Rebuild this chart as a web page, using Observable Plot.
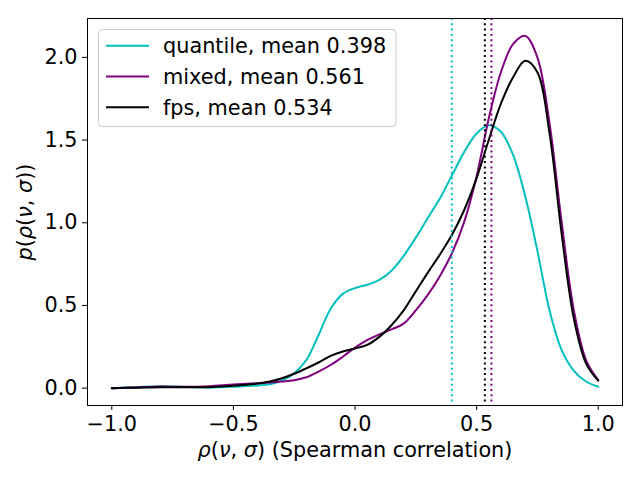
<!DOCTYPE html>
<html>
<head>
<meta charset="utf-8">
<script src="https://cdn.jsdelivr.net/npm/d3@7"></script>
<script src="https://cdn.jsdelivr.net/npm/@observablehq/plot@0.6"></script>
<style>
  html, body { margin: 0; padding: 0; background: white; }
  #chart { width: 640px; height: 480px; }
</style>
</head>
<body>
<div id="chart"></div>
<script>
// ---- data ----
const xs = [-1, -0.9, -0.8, -0.7, -0.6, -0.5, -0.4, -0.35, -0.3, -0.25, -0.2, -0.15, -0.1, -0.05, 0, 0.05, 0.1, 0.15, 0.2, 0.25, 0.3, 0.35, 0.4, 0.45, 0.5, 0.55, 0.6, 0.65, 0.7, 0.75, 0.8, 0.85, 0.9, 0.95, 1];
const quantileVals = [0, 0.006, 0.012, 0.007, 0.004, 0.008, 0.016, 0.024, 0.045, 0.09, 0.17, 0.32, 0.48, 0.57, 0.605, 0.625, 0.655, 0.71, 0.80, 0.91, 1.03, 1.15, 1.29, 1.43, 1.54, 1.59, 1.55, 1.41, 1.16, 0.83, 0.47, 0.23, 0.105, 0.04, 0.008];
const mixedVals = [0, 0.004, 0.01, 0.008, 0.012, 0.022, 0.03, 0.034, 0.04, 0.048, 0.066, 0.10, 0.14, 0.19, 0.245, 0.29, 0.325, 0.355, 0.39, 0.47, 0.565, 0.68, 0.82, 1.01, 1.28, 1.63, 1.91, 2.08, 2.13, 2.00, 1.60, 1.00, 0.47, 0.17, 0.05];
const fpsVals = [0, 0.003, 0.006, 0.005, 0.006, 0.014, 0.028, 0.04, 0.06, 0.087, 0.12, 0.155, 0.195, 0.222, 0.24, 0.262, 0.31, 0.38, 0.47, 0.585, 0.70, 0.81, 0.93, 1.08, 1.27, 1.50, 1.72, 1.88, 1.98, 1.91, 1.54, 0.93, 0.42, 0.15, 0.045];
const seriesNames = ["quantile", "mixed", "fps"];
const seriesMeans = [0.398, 0.561, 0.534];
const seriesColors = ["#00bfbf", "#800080", "#000000"];
const xTicks = [-1, -0.5, 0, 0.5, 1];
const yTicks = [0, 0.5, 1, 1.5, 2];

const valuesBySeries = [quantileVals, mixedVals, fpsVals];
const rows = [];
seriesNames.forEach((name, i) => {
  xs.forEach((x, j) => rows.push({series: name, x, y: valuesBySeries[i][j]}));
});
const means = seriesNames.map((name, i) => ({series: name, mean: seriesMeans[i]}));
const colorOf = Object.fromEntries(seriesNames.map((n, i) => [n, seriesColors[i]]));

const FONT = "DejaVu Sans";
const FS = 20.8;

const plot = Plot.plot({
  width: 640,
  height: 480,
  marginLeft: 87,
  marginRight: 18,
  marginTop: 18,
  marginBottom: 75,
  style: {fontFamily: FONT, fontSize: FS + "px", color: "black", background: "white"},
  x: {domain: [-1.1, 1.1]},
  y: {domain: [-0.105, 2.235]},
  marks: [
    ...seriesNames.map(name =>
      Plot.line(rows.filter(d => d.series === name), {
        x: "x", y: "y", stroke: colorOf[name], strokeWidth: 2, curve: "catmull-rom"
      })
    ),
    ...means.map(m =>
      Plot.ruleX([m], {x: "mean", stroke: colorOf[m.series], strokeWidth: 2, strokeDasharray: "2,3.3"})
    ),
    Plot.frame({stroke: "black", strokeWidth: 1}),
    Plot.axisX({ticks: xTicks, tickFormat: d3.format(".1f"), tickSize: 5, tickPadding: 6, fontSize: FS, label: null}),
    Plot.axisY({ticks: yTicks, tickFormat: d3.format(".1f"), tickSize: 5, tickPadding: 5, fontSize: FS, label: null})
  ]
});

document.getElementById("chart").appendChild(plot);
const svg = d3.select(plot);

function richText(g, parts) {
  parts.forEach(p => {
    g.append("tspan").attr("font-style", p.i ? "italic" : "normal").text(p.t);
  });
}

// x axis label
const xl = svg.append("text")
  .attr("x", 355).attr("y", 457)
  .attr("text-anchor", "middle")
  .attr("font-family", FONT).attr("font-size", FS).attr("fill", "black");
richText(xl, [
  {t: "ρ", i: true}, {t: "(", i: false}, {t: "ν", i: true}, {t: ", ", i: false},
  {t: "σ", i: true}, {t: ")", i: false}, {t: " (Spearman correlation)", i: false}
]);

// y axis label
const yl = svg.append("text")
  .attr("transform", "translate(32,212) rotate(-90)")
  .attr("text-anchor", "middle")
  .attr("font-family", FONT).attr("font-size", FS).attr("fill", "black");
richText(yl, [
  {t: "p", i: true}, {t: "(", i: false}, {t: "ρ", i: true}, {t: "(", i: false},
  {t: "ν", i: true}, {t: ", ", i: false}, {t: "σ", i: true}, {t: "))", i: false}
]);

// legend
const lg = svg.append("g");
lg.append("rect")
  .attr("x", 98.5).attr("y", 29.5).attr("width", 297.5).attr("height", 97)
  .attr("rx", 4).attr("fill", "white").attr("fill-opacity", 0.8)
  .attr("stroke", "#cccccc").attr("stroke-width", 1);
seriesNames.forEach((name, i) => {
  const cy = 45.7 + i * 30.8;
  lg.append("line")
    .attr("x1", 106).attr("x2", 149).attr("y1", cy).attr("y2", cy)
    .attr("stroke", seriesColors[i]).attr("stroke-width", 2);
  lg.append("text")
    .attr("x", 163).attr("y", cy + 7.6)
    .attr("text-anchor", "start")
    .attr("font-family", FONT).attr("font-size", FS).attr("fill", "black")
    .text(`${name}, mean ${seriesMeans[i].toFixed(3)}`);
});
</script>
</body>
</html>
